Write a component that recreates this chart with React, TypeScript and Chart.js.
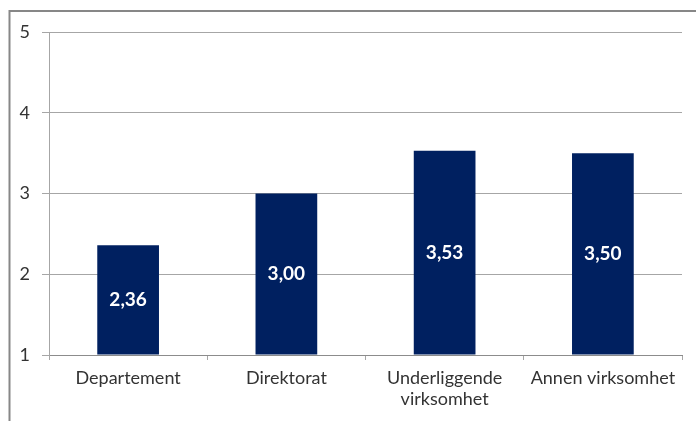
import React, { useEffect, useRef } from "react";
import { Chart, registerables } from "chart.js";

Chart.register(...registerables);

const categories: (string | string[])[] = [
  "Departement",
  "Direktorat",
  ["Underliggende", "virksomhet"],
  "Annen virksomhet",
];
const values: number[] = [2.36, 3.0, 3.53, 3.5];
const yTicks: number[] = [1, 2, 3, 4, 5];

const FONT = "Lato, 'Open Sans', sans-serif";

const frameAndLabels = {
  id: "frameAndLabels",
  beforeDraw(chart: any) {
    const ctx = chart.ctx;
    ctx.save();
    ctx.strokeStyle = "#878787";
    ctx.lineWidth = 2;
    ctx.beginPath();
    ctx.moveTo(9.5, 430);
    ctx.lineTo(9.5, 11);
    ctx.lineTo(700, 11);
    ctx.stroke();
    ctx.restore();
  },
  afterDatasetsDraw(chart: any) {
    const ctx = chart.ctx;
    const meta = chart.getDatasetMeta(0);
    ctx.save();
    ctx.fillStyle = "#ffffff";
    ctx.font = `bold 19px ${FONT}`;
    ctx.textAlign = "center";
    ctx.textBaseline = "middle";
    meta.data.forEach((el: any, i: number) => {
      const v = chart.data.datasets[0].data[i] as number;
      const y = (el.y + el.base) / 2;
      ctx.fillText(v.toFixed(2).replace(".", ","), el.x, y);
    });
    ctx.restore();
  },
};

export default function App() {
  const ref = useRef<HTMLCanvasElement | null>(null);
  useEffect(() => {
    document.body.style.margin = "0";
    if (!ref.current) return;
    const chart = new Chart(ref.current, {
      type: "bar",
      data: {
        labels: categories,
        datasets: [
          {
            data: values,
            base: 1,
            backgroundColor: "#002060",
            borderWidth: 0,
            barPercentage: 0.39,
            categoryPercentage: 1,
          },
        ],
      },
      options: {
        animation: false,
        responsive: false,
        maintainAspectRatio: false,
        layout: { padding: { top: 32, right: 14, left: 0, bottom: 0 } },
        plugins: { legend: { display: false }, tooltip: { enabled: false } },
        scales: {
          x: {
            grid: {
              offset: true,
              drawOnChartArea: false,
              drawTicks: true,
              tickLength: 5,
              color: "#a6a6a6",
            },
            border: { color: "#8c8c8c", width: 1 },
            ticks: {
              color: "#333333",
              font: { family: FONT, size: 18 },
              padding: 7,
              maxRotation: 0,
              autoSkip: false,
            },
            afterFit(scale: any) {
              scale.height = 66;
            },
          },
          y: {
            min: 1,
            max: 5,
            afterBuildTicks(scale: any) {
              scale.ticks = yTicks.map((v) => ({ value: v }));
            },
            grid: {
              color: "#a6a6a6",
              tickLength: 7,
              drawTicks: true,
            },
            border: { color: "#a6a6a6", width: 1 },
            ticks: {
              color: "#333333",
              font: { family: FONT, size: 18 },
              padding: 12,
            },
            afterFit(scale: any) {
              scale.width = 49;
            },
          },
        },
      },
      plugins: [frameAndLabels],
    });
    return () => chart.destroy();
  }, []);
  return (
    <div style={{ position: "fixed", left: 0, top: 0, width: 696, height: 421, background: "#fff" }}>
      <canvas ref={ref} width={696} height={421} style={{ display: "block" }} />
    </div>
  );
}
